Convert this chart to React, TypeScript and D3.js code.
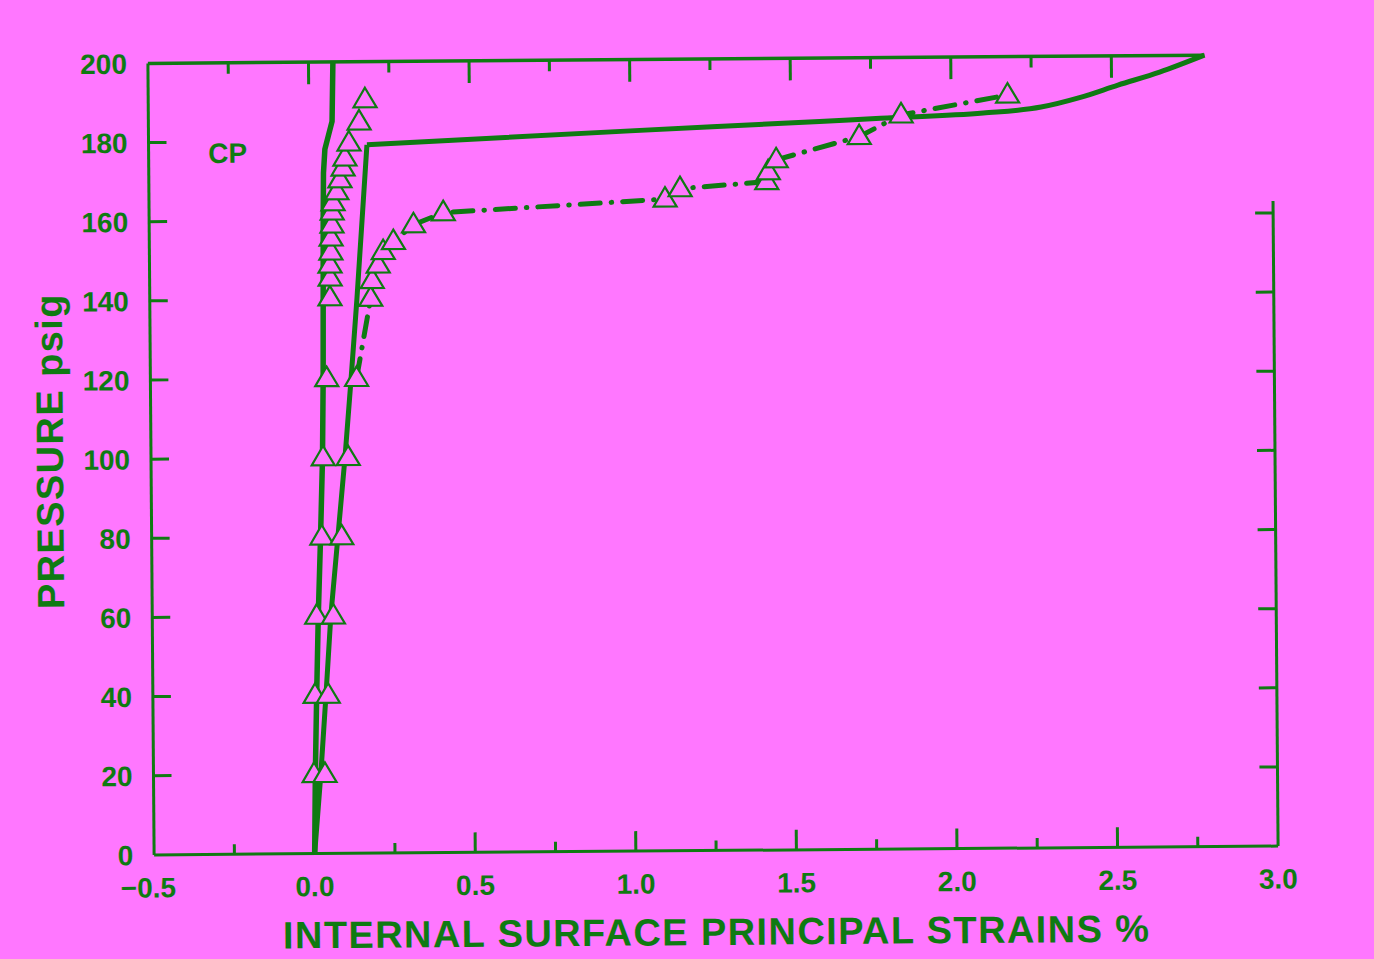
import React from 'react';
import * as d3 from 'd3';

// values
const xTickValues = [-0.5, 0, 0.5, 1.0, 1.5, 2.0, 2.5, 3.0];
const xMinorTicks = [-0.25, 0, 0.25, 0.5, 0.75, 1.0, 1.25, 1.5, 1.75, 2.0, 2.25, 2.5, 2.75];
const topTicks = [-0.25, 0, 0.25, 0.5, 0.75, 1.0, 1.25, 1.5, 1.75, 2.0, 2.25, 2.5];
const yTickValues = [0, 20, 40, 60, 80, 100, 120, 140, 160, 180, 200];
const rightTicks = [20, 40, 60, 80, 100, 120, 140, 160];

// left solid line (strain %, pressure psig)
const leftLine = [
  [0.0, 0], [0.004, 20], [0.01, 40], [0.017, 60], [0.026, 80], [0.034, 100],
  [0.038, 120], [0.04, 140], [0.042, 160], [0.044, 172], [0.049, 178],
  [0.072, 185], [0.076, 200],
];

// middle solid line: straight up to the knee, then the smooth upper branch
const middleLower = [
  [0.0, 0], [0.021, 20], [0.039, 40], [0.056, 60], [0.08, 80], [0.104, 100],
  [0.125, 120], [0.145, 140], [0.163, 160], [0.18, 179],
];
const middleUpper = [
  [0.18, 179], [1.0, 182], [1.59, 184], [1.78, 184.7], [2.1, 185.8], [2.28, 187.2],
  [2.4, 189.5], [2.52, 192.6], [2.65, 195.8], [2.79, 200],
];

// triangles on the left
const leftMarks = [
  [0.0, 20], [0.005, 40], [0.012, 60], [0.03, 80], [0.036, 100], [0.049, 120],
  [0.061, 140.4], [0.062, 145.4], [0.062, 148.7], [0.065, 152], [0.066, 155.5],
  [0.069, 158.8], [0.07, 162.1], [0.073, 164.4], [0.085, 167.2], [0.095, 170.2],
  [0.105, 173.2], [0.111, 175.7], [0.124, 179.5], [0.156, 184.8], [0.175, 190.4],
];

// dash-dot series with triangles
const dashMarks = [
  [0.034, 20], [0.046, 40], [0.064, 60], [0.092, 80], [0.114, 100], [0.142, 120],
  [0.188, 140.2], [0.193, 144.7], [0.212, 148.6], [0.228, 152], [0.26, 154.5],
  [0.323, 158.7], [0.416, 161.7], [1.107, 164.7], [1.154, 167.3], [1.424, 168.9],
  [1.429, 171.4], [1.454, 174.4], [1.713, 180.1], [1.844, 185.5], [2.176, 190.3],
];

const BG = '#ff77ff';
const GREEN = '#0f7a12';
const FONT = '"Liberation Sans", Arial, Helvetica, sans-serif';

const W = 1374;
const H = 959;

const x = d3.scaleLinear().domain([-0.5, 3.0]).range([151, 1275]);
const y = d3.scaleLinear().domain([0, 200]).range([850.5, 59]);

const line = d3.line<number[]>().x(d => x(d[0])).y(d => y(d[1]));
const smooth = d3.line<number[]>().x(d => x(d[0])).y(d => y(d[1])).curve(d3.curveMonotoneX);

const fmtX = (v: number) => (v < 0 ? '\u2212' + Math.abs(v).toFixed(1) : v.toFixed(1));

const tri = 'M0,-12 L11.5,7.5 L-11.5,7.5 Z';

export default function App() {
  const dashLine = dashMarks.filter(d => d[1] >= 120);
  return (
    <svg
      width={W}
      height={H}
      style={{ position: 'absolute', left: 0, top: 0, background: BG }}
    >
      <rect x={0} y={0} width={W} height={H} fill={BG} />
      <g transform="rotate(-0.45, 713, 455)" fontFamily={FONT} fontWeight="bold" fill={GREEN}>
        {/* frame */}
        <line x1={x(-0.5)} x2={x(-0.5)} y1={y(0)} y2={y(200)} stroke={GREEN} strokeWidth={3} />
        <line x1={x(-0.5)} x2={x(3.0)} y1={y(0)} y2={y(0)} stroke={GREEN} strokeWidth={3} />
        <line x1={x(-0.5)} x2={x(2.79)} y1={y(200)} y2={y(200)} stroke={GREEN} strokeWidth={3.5} />
        <line x1={x(3.0)} x2={x(3.0)} y1={y(0)} y2={y(163)} stroke={GREEN} strokeWidth={3} />

        {yTickValues.filter(v => v > 0 && v < 200).map(v => (
          <line key={'yl' + v} x1={x(-0.5)} x2={x(-0.5) + 18} y1={y(v)} y2={y(v)} stroke={GREEN} strokeWidth={3} />
        ))}
        {rightTicks.map(v => (
          <line key={'yr' + v} x1={x(3.0)} x2={x(3.0) - 18} y1={y(v)} y2={y(v)} stroke={GREEN} strokeWidth={3} />
        ))}
        {xMinorTicks.map(v => {
          const long = Math.abs((v * 2) % 1) < 1e-6;
          return (
            <line key={'xb' + v} x1={x(v)} x2={x(v)} y1={y(0)} y2={y(0) - (long ? 20 : 10)} stroke={GREEN} strokeWidth={3} />
          );
        })}
        {topTicks.map(v => {
          const long = Math.abs((v * 2) % 1) < 1e-6;
          return (
            <line key={'xt' + v} x1={x(v)} x2={x(v)} y1={y(200)} y2={y(200) + (long ? 22 : 11)} stroke={GREEN} strokeWidth={3} />
          );
        })}

        {/* tick labels */}
        {yTickValues.map(v => (
          <text key={'ty' + v} x={130} y={y(v)} dy="0.36em" textAnchor="end" fontSize={28}>
            {v}
          </text>
        ))}
        {xTickValues.map(v => (
          <text key={'tx' + v} x={x(v) - (v < 0 ? 6 : 0)} y={893} textAnchor="middle" fontSize={28}>
            {fmtX(v)}
          </text>
        ))}

        {/* axis titles */}
        <text
          transform="translate(63, 446) rotate(-90)"
          textAnchor="middle"
          fontSize={38}
          letterSpacing={1.4}
        >
          PRESSURE psig
        </text>
        <text x={713} y={945} textAnchor="middle" fontSize={38} letterSpacing={1.4}>
          INTERNAL SURFACE PRINCIPAL STRAINS %
        </text>
        <text x={230} y={159} textAnchor="middle" fontSize={28}>
          CP
        </text>

        {/* data lines */}
        <path d={line(leftLine) || ''} fill="none" stroke={GREEN} strokeWidth={5.5} strokeLinejoin="round" />
        <path d={line(middleLower) || ''} fill="none" stroke={GREEN} strokeWidth={5} strokeLinejoin="round" />
        <path d={smooth(middleUpper) || ''} fill="none" stroke={GREEN} strokeWidth={5} strokeLinejoin="round" />
        <path
          d={line(dashLine) || ''}
          fill="none"
          stroke={GREEN}
          strokeWidth={5}
          strokeLinecap="round"
          strokeDasharray="20 11 0.5 11"
        />

        {/* markers */}
        {leftMarks.concat(dashMarks).map((d, i) => (
          <path
            key={'m' + i}
            d={tri}
            transform={`translate(${x(d[0])},${y(d[1])})`}
            fill={BG}
            stroke={GREEN}
            strokeWidth={2.2}
          />
        ))}
      </g>
    </svg>
  );
}
